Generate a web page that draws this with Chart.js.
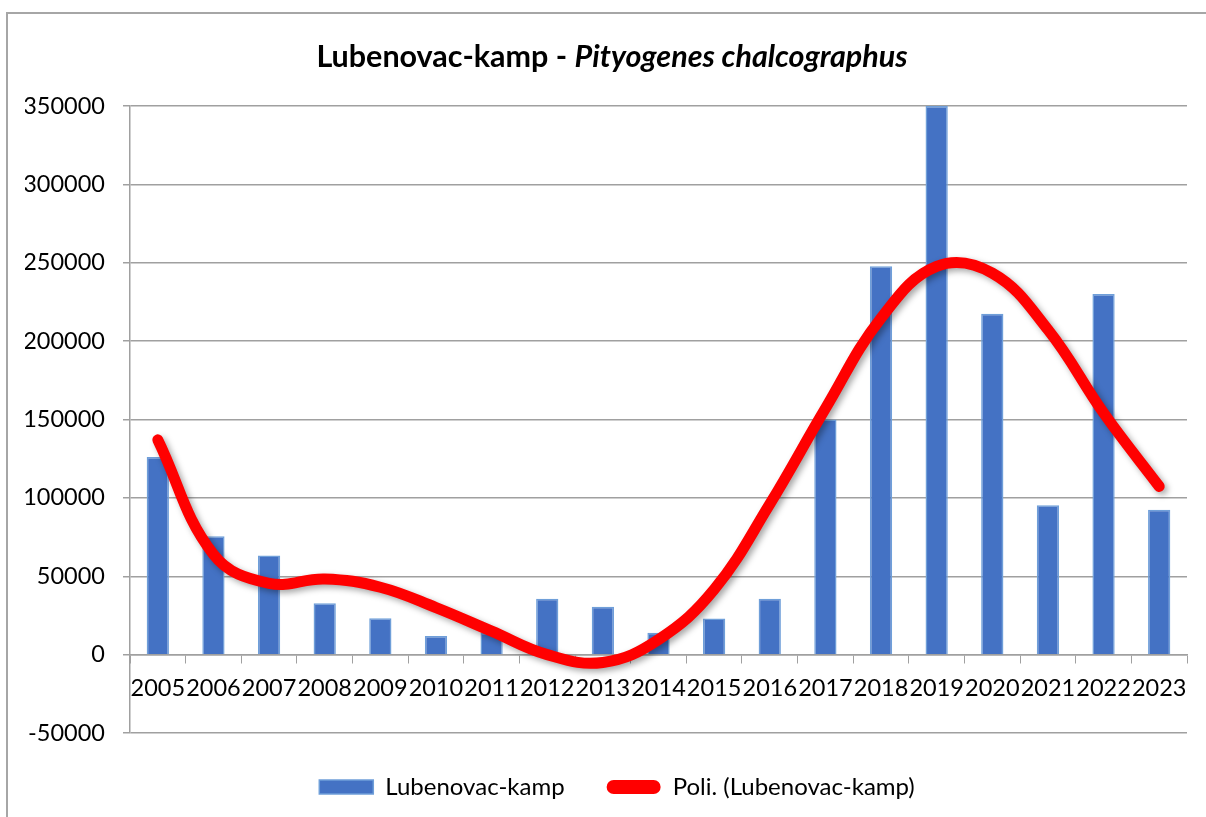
<!DOCTYPE html>
<html>
<head>
<meta charset="utf-8">
<title>Lubenovac-kamp - Pityogenes chalcographus</title>
<script src="https://cdn.jsdelivr.net/npm/chart.js@4.4.0/dist/chart.umd.min.js"></script>
<style>
  html, body { margin: 0; padding: 0; background: #fff; }
</style>
</head>
<body>
<canvas id="mychart" width="1206" height="817"></canvas>
<script>
// values
const years = ['2005', '2006', '2007', '2008', '2009', '2010', '2011', '2012', '2013', '2014',
               '2015', '2016', '2017', '2018', '2019', '2020', '2021', '2022', '2023'];
const catches = [126000, 75500, 63300, 32700, 23200, 11900, 14000, 35700, 30600, 14000,
                 23000, 35700, 150000, 247700, 350000, 217500, 95300, 230000, 92500];
// polynomial trend line (Poli.), read at each year
const trend = [137000, 64000, 45500, 48300, 43000, 30000, 15000, 0, -5000, 9600,
               41500, 96000, 157000, 214700, 247700, 243400, 207300, 154200, 107300];
const yMin = -50000;
const yMax = 350000;
const yStep = 50000;

const FONT = 'Lato, "Open Sans", sans-serif';
const gridColor = '#a0a0a0';

// title has a bold part and a bold italic part, so draw it ourselves
const titlePlugin = {
    id: 'mixedTitle',
    beforeDraw(chart) {
        const ctx = chart.ctx;
        ctx.save();
        // chart frame
        ctx.strokeStyle = '#a6a6a6';
        ctx.lineWidth = 2;
        ctx.beginPath();
        ctx.moveTo(7, 900);
        ctx.lineTo(7, 13);
        ctx.lineTo(1210, 13);
        ctx.stroke();
        ctx.restore();
    },
    afterDraw(chart) {
        const ctx = chart.ctx;
        const a = 'Lubenovac-kamp - ';
        const b = 'Pityogenes chalcographus';
        ctx.save();
        ctx.fillStyle = '#000';
        ctx.textBaseline = 'middle';
        ctx.font = 'bold 30.5px ' + FONT;
        const wa = ctx.measureText(a).width;
        ctx.font = 'italic bold 30.5px ' + FONT;
        const wb = ctx.measureText(b).width;
        let x = 612 - (wa + wb) / 2;
        ctx.font = 'bold 30.5px ' + FONT;
        ctx.fillText(a, x, 57);
        ctx.font = 'italic bold 30.5px ' + FONT;
        ctx.fillText(b, x + wa, 57);
        ctx.restore();
    }
};

// soft shadow under the trend line
const shadowPlugin = {
    id: 'lineShadow',
    afterLayout(chart) {
        // legend sits a little right of centre in the original
        chart.legend.left += 11;
        chart.legend.right += 11;
    },
    beforeDatasetDraw(chart, args) {
        if (args.index !== 1) return;
        const ctx = chart.ctx;
        ctx.save();
        ctx.shadowColor = 'rgba(0,0,0,0.35)';
        ctx.shadowBlur = 6;
        ctx.shadowOffsetX = 3;
        ctx.shadowOffsetY = 3;
    },
    afterDatasetDraw(chart, args) {
        if (args.index !== 1) return;
        chart.ctx.restore();
    }
};

const data = {
    labels: years,
    datasets: [{
        type: 'bar',
        label: 'Lubenovac-kamp',
        data: catches,
        backgroundColor: '#4472C4',
        borderColor: '#6f9fd9',
        borderWidth: 1.5,
        categoryPercentage: 0.8,
        barPercentage: 0.5,
        order: 2
    }, {
        type: 'line',
        label: 'Poli. (Lubenovac-kamp)',
        data: trend,
        borderColor: '#ff0000',
        borderWidth: 11,
        borderCapStyle: 'round',
        borderJoinStyle: 'round',
        pointRadius: 0,
        tension: 0.4,
        fill: false,
        order: 1
    }]
};

const config = {
    type: 'bar',
    data,
    plugins: [titlePlugin, shadowPlugin],
    options: {
        responsive: false,
        animation: false,
        devicePixelRatio: 1,
        layout: { padding: { left: 25, right: 19, top: 106, bottom: 8 } },
        plugins: {
            title: { display: false },
            tooltip: { enabled: false },
            legend: {
                position: 'bottom',
                labels: {
                    color: '#000',
                    font: { family: FONT, size: 24 },
                    boxWidth: 54,
                    boxHeight: 14,
                    padding: 42,
                    generateLabels: () => [
                        { text: 'Lubenovac-kamp', fillStyle: '#4472C4', strokeStyle: '#6f9fd9',
                          lineWidth: 1.5, datasetIndex: 0, fontColor: '#000' },
                        { text: 'Poli. (Lubenovac-kamp)', fillStyle: '#ff0000', strokeStyle: '#ff0000',
                          lineWidth: 0, borderRadius: 7, datasetIndex: 1, fontColor: '#000' }
                    ]
                }
            }
        },
        scales: {
            x: {
                position: { y: 0 },
                offset: true,
                grid: {
                    offset: true,
                    drawOnChartArea: false,
                    drawTicks: true,
                    tickLength: 8,
                    color: gridColor
                },
                border: { color: gridColor, width: 1.5 },
                ticks: {
                    color: '#000',
                    font: { family: FONT, size: 23.5 },
                    padding: 12,
                    maxRotation: 0,
                    autoSkip: false
                }
            },
            y: {
                min: yMin,
                max: yMax,
                afterFit(scale) { scale.width = 105; },
                grid: { color: gridColor, lineWidth: 1.5, tickLength: 7 },
                border: { color: gridColor, width: 1.5 },
                ticks: {
                    stepSize: yStep,
                    color: '#000',
                    font: { family: FONT, size: 23.5 },
                    padding: 18,
                    callback: v => String(v)
                }
            }
        }
    }
};

const myChart = new Chart(document.getElementById('mychart'), config);
</script>
</body>
</html>
